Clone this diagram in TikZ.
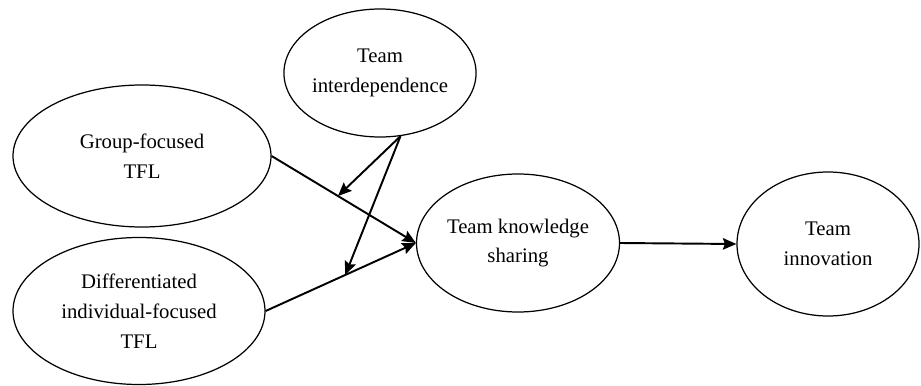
\documentclass[tikz,border=0pt]{standalone}
\usepackage{fontspec}
\setmainfont{Liberation Serif}
\usepackage{tikz}
\usetikzlibrary{arrows.meta,shapes,positioning,calc}

\begin{document}
\begin{tikzpicture}[
    construct/.style={ellipse, draw, line width=0.7pt, align=center, inner sep=0pt,
        font=\fontsize{11.8}{17}\selectfont},
    path/.style={line width=1.1pt, -{Stealth[length=2.7mm,width=2.3mm,inset=0.4mm]}}
  ]
    \useasboundingbox (0,0) rectangle (18.42,7.7);

    % 构念
    \node[construct, minimum width=3.76cm, minimum height=2.56cm] (inter) at (7.6,6.24) {Team\\interdependence};
    \node[construct, minimum width=5.16cm, minimum height=2.84cm] (group) at (2.84,4.58) {Group-focused\\TFL};
    \node[construct, minimum width=5.04cm, minimum height=2.94cm] (indiv) at (2.78,1.48) {Differentiated\\individual-focused\\TFL};
    \node[construct, minimum width=4.06cm, minimum height=2.76cm] (share) at (10.36,2.84) {Team knowledge\\sharing};
    \node[construct, minimum width=3.64cm, minimum height=2.88cm] (innov) at (16.56,2.82) {Team\\innovation};

    % 主效应
    \draw[path] (group.east) -- (share.west) coordinate[pos=0.46] (modA);
    \draw[path] (indiv.east) -- (share.west) coordinate[pos=0.53] (modB);
    \draw[path] (share.east) -- (innov.west);

    % 调节效应
    \draw[path] (inter.-72) -- (modA);
    \draw[path] (inter.-72) -- (modB);
\end{tikzpicture}
\end{document}
